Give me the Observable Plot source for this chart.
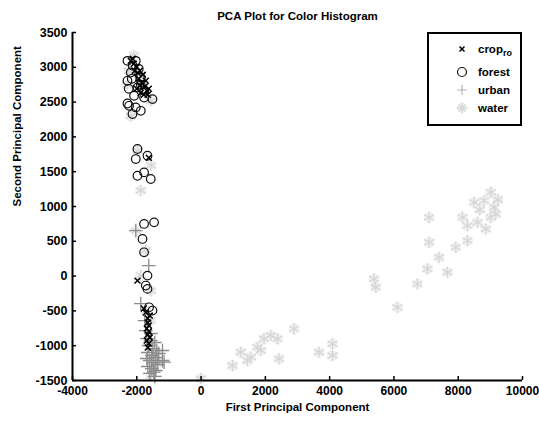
<!DOCTYPE html>
<html>
<head>
<meta charset="utf-8">
<script src="https://cdn.jsdelivr.net/npm/d3@7"></script>
<script src="https://cdn.jsdelivr.net/npm/@observablehq/plot@0.6"></script>
<style>
  html, body { margin: 0; padding: 0; background: #fff; }
  #wrap { position: relative; width: 539px; height: 422px; font-family: "Liberation Sans", Arial, sans-serif; }
  #legend { position: absolute; left: 427px; top: 32px; width: 91px; height: 90px; border: 2px solid #000; background: #fff; }
</style>
</head>
<body>
<div id="wrap"></div>
<script>
const categories = ["crop", "forest", "urban", "water"];

const cropX = [-2187,-2094,-2000,-1907,-1814,-1938,-1845,-1752,-2000,-1689,-1876,-1783,-1658,-2063,-2125,-1720,-1969,-1907,-1627,
  -1627,-1979,-1783,-1658,-1658,-1627,-1689,-1627,-1658,-1596,-1689,-1627,-1658,-1720,-1596];
const cropY = [3093,3050,3007,2950,2892,2835,2778,2720,2691,2663,2634,2605,2605,2950,3122,2806,2921,2734,2691,
  1701,-65,-466,-610,-667,-710,-753,-796,-840,-883,-926,-969,-1026,-524,-567];

const forestX = [-2290,-2031,-2187,-1876,-2290,-1979,-1773,-2084,-1773,-1512,-2240,-2031,-2134,-1876,-2290,-2125,-1938,-2250,-1876,-2156,
  -1979,-2031,-1667,-1979,-1773,-1565,
  -1773,-1462,-1823,-1773,-1667,-1720,-1667,-1512,-1618];
const forestY = [3093,3093,2925,2853,2806,2710,2662,2591,2566,2543,2447,2423,2328,2375,2480,3021,2978,2691,2749,2835,
  1826,1682,1729,1442,1490,1395,
  749,772,534,342,7,-136,-184,-495,-448];

const urbanX = [-2031,-1627,-1876,-1201,-1150,-1471,-1201,
  -1689,-1565,-1440,-1627,-1503,-1378,-1658,-1534,-1409,-1596,-1471,-1347,-1658,-1534,-1409,-1596,-1720,-1565,-1689,-1440,-1316,-1752];
const urbanY = [653,151,-395,-1069,-1237,-1381,-1213,
  -897,-926,-954,-997,-1041,-1069,-1098,-1141,-1170,-1213,-1242,-1270,-1299,-1328,-1356,-1399,-782,-825,-1184,-1442,-1112,-639];

const waterX = [9013,8493,8804,9115,9168,9013,7093,8132,8288,8599,8857,8288,7093,7924,7404,7043,7666,5382,5435,6732,6110,8670,9230,
  977,1235,1546,1857,1960,2168,2377,2427,2893,3671,4088,4088,1755,1444,-9,
  -2090,-1880,-2300,-1560,-2190,-1970,-1560,-1880,-2030,-1720,-1880,-1560,-1720,-1570,-1630,-1410,-1500,-1560,-1350,-2250];
const waterY = [1203,1059,1084,987,893,844,844,844,725,772,677,510,485,413,270,103,55,-40,-161,-112,-448,954,1098,
  -1285,-1094,-1165,-1069,-901,-854,-901,-1188,-758,-1094,-973,-1141,-1022,-1213,-1471,
  3170,2880,2750,2520,2300,1800,1590,1230,650,370,10,-210,-500,-640,-930,-1140,-1290,-1430,-1250,2950];

const xTicks = [-4000,-2000,0,2000,4000,6000,8000,10000];
const yTicks = [-1500,-1000,-500,0,500,1000,1500,2000,2500,3000,3500];

const titleText = "PCA Plot for Color Histogram";
const xLabel = "First Principal Component";
const yLabel = "Second Principal Component";

const toRows = (xs, ys) => xs.map((x, i) => ({x, y: ys[i]}));
const crop = toRows(cropX, cropY);
const forest = toRows(forestX, forestY);
const urban = toRows(urbanX, urbanY);
const water = toRows(waterX, waterY);

const W = 539, H = 422, mL = 72, mR = 17, mT = 32, mB = 42;
const fw = W - mL - mR, fh = H - mT - mB;

const chart = Plot.plot({
  width: W, height: H,
  marginLeft: mL, marginRight: mR, marginTop: mT, marginBottom: mB,
  style: {fontFamily: "'Liberation Sans', Arial, sans-serif", fontSize: "11px", fontWeight: "bold", background: "#fff", color: "#000", overflow: "visible"},
  x: {domain: [-4000, 10000]},
  y: {domain: [-1500, 3500]},
  marks: [
    Plot.dot(water, {x: "x", y: "y", r: 5.5, fill: "#f1f1f1", stroke: "none"}),
    Plot.dot(water, {x: "x", y: "y", symbol: "asterisk", r: 5.5, stroke: "#d6d6d6", strokeWidth: 1.3}),
    Plot.dot(urban, {x: "x", y: "y", symbol: "plus", r: 4.5, stroke: "#8c8c8c", strokeWidth: 1.3}),
    Plot.dot(forest, {x: "x", y: "y", symbol: "circle", r: 4.3, stroke: "#111", fill: "none", strokeWidth: 1.2}),
    Plot.dot(crop, {x: "x", y: "y", symbol: "times", r: 2.8, stroke: "#000", strokeWidth: 1.5}),
    Plot.ruleX([-4000], {stroke: "#000", strokeWidth: 2}),
    Plot.ruleY([-1500], {stroke: "#000", strokeWidth: 2}),
    Plot.tickX(xTicks, {stroke: "#000", strokeWidth: 1.5, insetTop: fh - 4}),
    Plot.tickY(yTicks, {stroke: "#000", strokeWidth: 1.5, insetRight: fw - 4}),
    Plot.axisX(xTicks, {tickSize: 0, tickPadding: 6, label: null, fontSize: 12, tickFormat: d => String(d)}),
    Plot.axisY(yTicks, {tickSize: 0, tickPadding: 5, label: null, fontSize: 12.5, tickFormat: d => String(d)}),
    Plot.text([titleText], {frameAnchor: "top", dy: -21, fontSize: 11.5, fontWeight: "bold"}),
    Plot.text([xLabel], {frameAnchor: "bottom", dy: 30, fontSize: 11.5, fontWeight: "bold"}),
    Plot.text([yLabel], {frameAnchor: "left", dx: -55, rotate: -90, fontSize: 11.5, fontWeight: "bold"})
  ]
});

const wrap = document.getElementById("wrap");
wrap.appendChild(chart);

// legend overlay
const legend = document.createElement("div");
legend.id = "legend";
const rowsY = [15, 38, 56, 74];
const styles = {
  crop: {stroke: "#000", sw: 1.5},
  forest: {stroke: "#111", sw: 1.2},
  urban: {stroke: "#b5b5b5", sw: 1.2},
  water: {stroke: "#d8d8d8", sw: 1.4}
};
let svg = `<svg width="91" height="90" xmlns="http://www.w3.org/2000/svg" style="font-family:'Liberation Sans',Arial,sans-serif;font-weight:bold;font-size:11.5px">`;
categories.forEach((c, i) => {
  const cx = 33, cy = rowsY[i];
  const s = styles[c];
  if (c === "crop") {
    svg += `<path d="M${cx-2.5},${cy-2.5}L${cx+2.5},${cy+2.5}M${cx-2.5},${cy+2.5}L${cx+2.5},${cy-2.5}" stroke="${s.stroke}" stroke-width="${s.sw}"/>`;
    svg += `<text x="49" y="${cy+4}">crop<tspan dy="3" font-size="9">ro</tspan></text>`;
  } else {
    if (c === "forest") svg += `<circle cx="${cx}" cy="${cy}" r="4.5" fill="none" stroke="${s.stroke}" stroke-width="${s.sw}"/>`;
    if (c === "urban") svg += `<path d="M${cx-5},${cy}H${cx+5}M${cx},${cy-5}V${cy+5}" stroke="${s.stroke}" stroke-width="${s.sw}"/>`;
    if (c === "water") svg += `<circle cx="${cx}" cy="${cy}" r="5" fill="#f0f0f0"/><path d="M${cx-5.5},${cy}H${cx+5.5}M${cx},${cy-5.5}V${cy+5.5}M${cx-3.5},${cy-3.5}L${cx+3.5},${cy+3.5}M${cx-3.5},${cy+3.5}L${cx+3.5},${cy-3.5}" stroke="${s.stroke}" stroke-width="${s.sw}"/>`;
    svg += `<text x="49" y="${cy+4}">${c}</text>`;
  }
});
svg += `</svg>`;
legend.innerHTML = svg;
wrap.appendChild(legend);
</script>
</body>
</html>
